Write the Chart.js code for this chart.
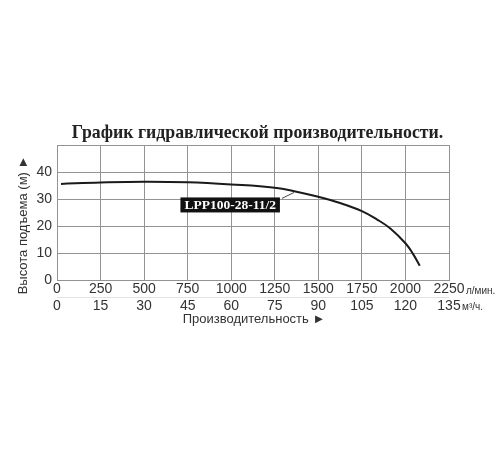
<!DOCTYPE html>
<html>
<head>
<meta charset="utf-8">
<script src="https://cdn.jsdelivr.net/npm/chart.js@4.4.1/dist/chart.umd.min.js"></script>
<style>
  html, body { margin: 0; padding: 0; background: #fff; }
  #wrap { width: 500px; height: 450px; }
</style>
</head>
<body>
<div id="wrap"><canvas id="c" width="500" height="450"></canvas></div>
<script>
// ---- data ----
const titleText = 'График гидравлической производительности.';
const yTitle = 'Высота подъема (м) ►';
const xTitle = 'Производительность ►';
const flowUnit = 'л/мин.';
const m3hUnit = 'м³/ч.';
const seriesName = 'LPP100-28-11/2';

const flowTicks = ['0', '250', '500', '750', '1000', '1250', '1500', '1750', '2000', '2250'];
const m3hTicks = ['0', '15', '30', '45', '60', '75', '90', '105', '120', '135'];
const headTicks = ['0', '10', '20', '30', '40', ''];

const flowValues = [23, 250, 500, 750, 1000, 1250, 1375, 1500, 1625, 1750, 1840, 1915, 2000, 2045, 2082];
const headValues = [35.6, 36.1, 36.4, 36.2, 35.4, 34.2, 32.7, 30.8, 28.5, 25.5, 22.3, 19.0, 13.6, 9.5, 5.3];

// label anchor (data coords) and leader target
const labelFlow = 994;
const labelHead = 27.8;
const leaderFlow = 1360;

const points = flowValues.map((f, i) => ({ x: f, y: headValues[i] }));

const annot = {
  id: 'annot',
  afterDraw(chart) {
    const ctx = chart.ctx;
    const xs = chart.scales.x, ys = chart.scales.y;
    const ca = chart.chartArea;
    ctx.save();
    // title
    ctx.fillStyle = '#222';
    ctx.font = 'bold 17.8px "Liberation Serif"';
    ctx.textAlign = 'center';
    ctx.textBaseline = 'middle';
    ctx.fillText(titleText, 257.5, 133);

    // y title
    ctx.save();
    ctx.translate(23, 225);
    ctx.rotate(-Math.PI / 2);
    ctx.font = '13px "Liberation Sans"';
    ctx.fillStyle = '#333';
    ctx.fillText(yTitle, 0, 0);
    ctx.restore();

    // x title
    ctx.font = '13px "Liberation Sans"';
    ctx.fillStyle = '#333';
    ctx.textAlign = 'center';
    ctx.fillText(xTitle, 254, 319);

    // faint separator between tick rows
    ctx.strokeStyle = '#e2e2e2';
    ctx.lineWidth = 1;
    ctx.beginPath();
    ctx.moveTo(ca.left, 297.5);
    ctx.lineTo(ca.right, 297.5);
    ctx.stroke();

    // units
    ctx.textAlign = 'left';
    ctx.font = '10px "Liberation Sans Narrow", "Liberation Sans"';
    ctx.fillStyle = '#333';
    ctx.fillText(flowUnit, 466, 291);
    ctx.fillText(m3hUnit, 462, 307);

    // series label box
    const cx = xs.getPixelForValue(labelFlow);
    const cy = ys.getPixelForValue(labelHead);
    ctx.font = 'bold 13.5px "Liberation Serif"';
    const tw = ctx.measureText(seriesName).width;
    const bw = tw + 8, bh = 15;
    const bx = cx - bw / 2, by = cy - bh / 2;
    // leader line
    const lx = xs.getPixelForValue(leaderFlow);
    ctx.strokeStyle = '#444';
    ctx.lineWidth = 1;
    ctx.beginPath();
    ctx.moveTo(bx + bw + 2, by + 1);
    ctx.lineTo(lx, 192.5);
    ctx.stroke();
    ctx.fillStyle = '#111';
    ctx.fillRect(bx, by, bw, bh);
    ctx.fillStyle = '#fff';
    ctx.textAlign = 'center';
    ctx.textBaseline = 'middle';
    ctx.fillText(seriesName, cx, cy + 0.5);
    ctx.restore();
  }
};

new Chart(document.getElementById('c'), {
  type: 'scatter',
  data: {
    datasets: [{
      data: points,
      showLine: true,
      borderColor: '#1a1a1a',
      borderWidth: 2,
      pointRadius: 0,
      tension: 0.4,
      fill: false
    }]
  },
  options: {
    responsive: false,
    animation: false,
    devicePixelRatio: 1,
    layout: { padding: { left: 0, right: 51, top: 145, bottom: 0 } },
    plugins: { legend: { display: false }, tooltip: { enabled: false }, title: { display: false } },
    scales: {
      x: {
        type: 'linear',
        min: 0, max: 2250,
        afterFit(s) { s.height = 170; },
        afterBuildTicks(s) { s.ticks = flowTicks.map((t, i) => ({ value: i * 250 })); },
        grid: { color: '#939393', lineWidth: 1, drawTicks: false },
        border: { color: '#939393' },
        ticks: {
          autoSkip: false, maxRotation: 0, padding: 1,
          color: '#333',
          font: { family: '"Liberation Sans"', size: 14, lineHeight: 1.2 },
          callback: (v, i) => [flowTicks[i], m3hTicks[i]]
        }
      },
      y: {
        type: 'linear',
        min: 0, max: 50,
        afterFit(s) { s.width = 57; },
        afterBuildTicks(s) { s.ticks = headTicks.map((t, i) => ({ value: i * 10 })); },
        grid: { color: '#939393', lineWidth: 1, drawTicks: false },
        border: { color: '#939393' },
        ticks: {
          padding: 5,
          color: '#333',
          font: { family: '"Liberation Sans"', size: 14 },
          callback: (v, i) => headTicks[i]
        }
      }
    }
  },
  plugins: [annot]
});
</script>
</body>
</html>
